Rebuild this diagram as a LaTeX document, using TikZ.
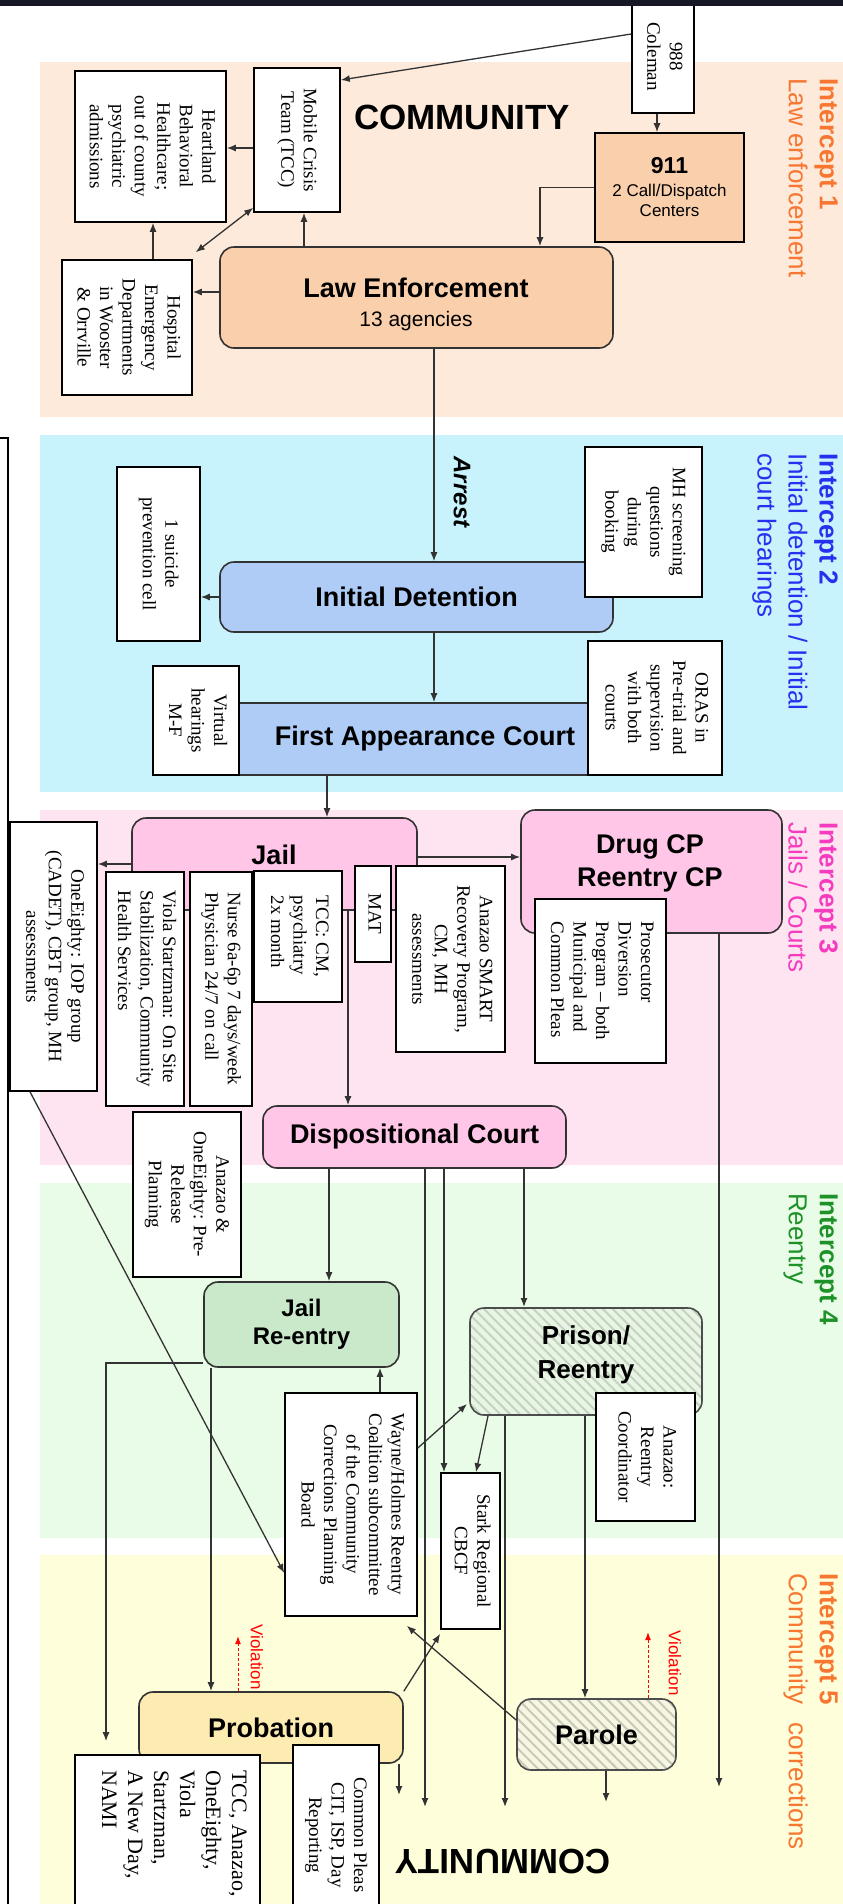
\documentclass[tikz,border=0pt]{standalone}
\usepackage{fontspec}
\setmainfont{Liberation Serif}
\newfontfamily\sansfont{Liberation Sans}
\usetikzlibrary{
	arrows.meta,		% arrow tips
	patterns.meta,		% hatched boxes
	positioning,
}
\definecolor{topbar}{RGB}{22,24,38}
\definecolor{bandA}{RGB}{253,234,218}
\definecolor{bandB}{RGB}{200,242,252}
\definecolor{bandC}{RGB}{254,228,240}
\definecolor{bandD}{RGB}{233,252,231}
\definecolor{bandE}{RGB}{254,254,218}
\definecolor{lepeach}{RGB}{249,207,172}
\definecolor{idblue}{RGB}{174,204,246}
\definecolor{jpink}{RGB}{255,198,232}
\definecolor{jregreen}{RGB}{202,232,202}
\definecolor{probyel}{RGB}{253,236,178}
\definecolor{prisonbase}{RGB}{232,244,228}
\definecolor{prisonline}{RGB}{196,210,192}
\definecolor{parolebase}{RGB}{246,246,226}
\definecolor{paroleline}{RGB}{200,200,182}
\definecolor{intorange}{RGB}{247,118,48}
\definecolor{intblue}{RGB}{40,48,240}
\definecolor{intpink}{RGB}{245,60,190}
\definecolor{intgreen}{RGB}{30,145,40}
\newcommand{\vt}[1]{\rotatebox{-90}{\begin{tabular}{@{}c@{}}#1\end{tabular}}}
\newcommand{\vtl}[1]{\rotatebox{-90}{\begin{tabular}{@{}l@{}}#1\end{tabular}}}

\begin{document}
\begin{tikzpicture}[x=1pt,y=-1pt,
		wbox/.style={draw=black,line width=1.6pt,fill=white,inner sep=0pt,font=\fontsize{19}{22.5}\selectfont},
		rbox/.style={draw=black!80,line width=1.6pt,rounded corners=14pt,inner sep=0pt,align=center,font=\sansfont\bfseries\fontsize{27}{33}\selectfont},
		hatchbox/.style 2 args={rbox,draw=black!70,preaction={fill=#1},pattern={Lines[angle=-45,distance=7pt,line width=2pt]},pattern color=#2},
		boxtxt/.style={inner sep=0pt,align=center,font=\sansfont\bfseries\fontsize{27}{33}\selectfont},
		intlbl/.style={rotate=-90,anchor=north west,align=left,inner sep=0pt,text=#1,font=\sansfont\fontsize{26}{31}\selectfont},
		bigtxt/.style={inner sep=0pt,font=\sansfont\bfseries\fontsize{35}{40}\selectfont},
		viol/.style={rotate=-90,inner sep=0pt,text=red,font=\sansfont\fontsize{17}{20}\selectfont},
		arr/.style={draw=black!80,line width=1.3pt,-{Latex[length=9pt,width=7pt]}},
		darr/.style={arr,{Latex[length=9pt,width=7pt]}-{Latex[length=9pt,width=7pt]}},
		varr/.style={draw=red,line width=0.9pt,dash pattern=on 3pt off 2pt,-{Latex[length=8pt,width=6pt]}},
	]
	\useasboundingbox (0,0) rectangle (843,1904);
	% bands of the five intercepts
	\fill[bandA] (40,62) rectangle (843,417);
	\fill[bandB] (40,435) rectangle (843,792);
	\fill[bandC] (40,810) rectangle (843,1165);
	\fill[bandD] (40,1183) rectangle (843,1538);
	\fill[bandE] (40,1555) rectangle (843,1904);
	\node[wbox,minimum width=116pt,minimum height=1524pt] (sidebox) at (-50,1200) {};

	% intercept 1
	\node[wbox,minimum width=62pt,minimum height=113pt] (coleman) at (663,56.5) {\vt{988\\Coleman}};
	\node[wbox,fill=lepeach,minimum width=149pt,minimum height=109pt,align=center,font=\sansfont\fontsize{17}{20}\selectfont] (e911) at (669.5,187.5) {{\bfseries\fontsize{23}{26}\selectfont 911}\\[3pt]2 Call/Dispatch\\Centers};
	\node[wbox,minimum width=86pt,minimum height=144pt] (mct) at (297,140) {\vt{Mobile Crisis\\Team (TCC)}};
	\node[wbox,minimum width=151pt,minimum height=151pt] (heart) at (150.5,146.5) {\vt{Heartland\\Behavioral\\Healthcare;\\out of county\\psychiatric\\admissions}};
	\node[wbox,minimum width=130pt,minimum height=135pt] (hosp) at (127,327.5) {\vt{Hospital\\Emergency\\Departments\\in Wooster\\\& Orrville}};
	\node[rbox,fill=lepeach,minimum width=393pt,minimum height=101pt] (le) at (416.5,297.5) {};
	\node[boxtxt] (letxt) at (416,304) {Law Enforcement\\[-4pt]{\mdseries\fontsize{21}{24}\selectfont 13 agencies}};
	\node[bigtxt] (commtop) at (462,117) {COMMUNITY};
	\fill[topbar] (0,0) rectangle (843,6);

	% intercept 2
	\node[rbox,fill=idblue,minimum width=393pt,minimum height=70pt] (idt) at (416.5,597) {Initial Detention};
	\node[wbox,minimum width=117pt,minimum height=150pt] (mh) at (643.5,522) {\vt{MH screening\\questions\\during\\booking}};
	\node[wbox,minimum width=83pt,minimum height=174pt] (suic) at (158.5,554) {\vt{1 suicide\\prevention cell}};
	\node[rbox,sharp corners,fill=idblue,minimum width=450pt,minimum height=72pt] (fac) at (425,739) {First Appearance Court};
	\node[wbox,minimum width=86pt,minimum height=109pt] (virt) at (196,720.5) {\vt{Virtual\\hearings\\M-F}};
	\node[wbox,minimum width=134pt,minimum height=134pt] (oras) at (655,708) {\vt{ORAS in\\Pre-trial and\\supervision\\with both\\courts}};
	\node[rotate=-90,inner sep=0pt,font=\sansfont\bfseries\itshape\fontsize{24}{28}\selectfont] (arrest) at (462,492) {Arrest};

	% intercept 3
	\node[rbox,fill=jpink,minimum width=285pt,minimum height=92pt] (jail) at (274.5,864) {};
	\node[boxtxt] (jailtxt) at (274,855) {Jail};
	\node[rbox,fill=jpink,minimum width=261pt,minimum height=123pt] (drug) at (651.5,871.5) {};
	\node[boxtxt] (drugtxt) at (650,863) {Drug CP\\Reentry CP};
	\node[wbox,minimum width=131pt,minimum height=164pt] (pros) at (600.5,981) {\vtl{Prosecutor\\Diversion\\Program -- both\\Municipal and\\Common Pleas}};
	\node[wbox,minimum width=87pt,minimum height=269pt] (one80) at (53.5,956.5) {\vt{OneEighty: IOP group\\(CADET), CBT group, MH\\assessments}};
	\node[wbox,minimum width=78pt,minimum height=234pt] (viola) at (145,989) {\vtl{Viola Startzman: On Site\\Stabilization, Community\\Health Services}};
	\node[wbox,minimum width=62pt,minimum height=234pt] (nurse) at (221,989) {\vtl{Nurse 6a-6p 7 days/week\\Physician 24/7 on call}};
	\node[wbox,minimum width=88pt,minimum height=131pt] (tcccm) at (298,936.5) {\vtl{TCC: CM,\\psychiatry\\2x month}};
	\node[wbox,minimum width=36pt,minimum height=96pt] (mat) at (373,914) {\vt{MAT}};
	\node[wbox,minimum width=109pt,minimum height=186pt] (smart) at (450.5,959) {\vt{Anazao SMART\\Recovery Program,\\CM, MH\\assessments}};
	\node[rbox,fill=jpink,minimum width=303pt,minimum height=62pt] (disp) at (414.5,1137) {Dispositional Court};
	\node[wbox,minimum width=108pt,minimum height=165pt] (prerel) at (187,1194.5) {\vt{Anazao \&\\OneEighty: Pre-\\Release\\Planning}};

	% intercept 4
	\node[rbox,fill=jregreen,font=\sansfont\bfseries\fontsize{24}{28}\selectfont,minimum width=195pt,minimum height=85pt] (jre) at (301.5,1324.5) {Jail\\Re-entry};
	\node[hatchbox={prisonbase}{prisonline},minimum width=232pt,minimum height=107pt] (prison) at (586,1361.5) {};
	\node[boxtxt,font=\sansfont\bfseries\fontsize{26}{34}\selectfont] (prisontxt) at (586,1355) {Prison/\\Reentry};
	\node[wbox,minimum width=99pt,minimum height=128pt] (anzrc) at (645.5,1457) {\vt{Anazao:\\Reentry\\Coordinator}};
	\node[wbox,minimum width=132pt,minimum height=223pt] (wayne) at (351,1504.5) {\vt{Wayne/Holmes Reentry\\Coalition subcommittee\\of the Community\\Corrections Planning\\Board}};
	\node[wbox,minimum width=59pt,minimum height=156pt] (stark) at (470.5,1551) {\vt{Stark Regional\\CBCF}};

	% intercept 5
	\node[rbox,fill=probyel,minimum width=264pt,minimum height=71pt] (prob) at (271,1727.5) {Probation};
	\node[hatchbox={parolebase}{paroleline},minimum width=159pt,minimum height=71pt] (parole) at (596.5,1734.5) {Parole};
	\node[wbox,minimum width=185pt,minimum height=200pt] (tccana) at (167.5,1855) {};
	\node[rotate=-90,anchor=north west,align=left,inner sep=0pt,font=\fontsize{22}{26}\selectfont] (tccanatxt) at (247,1770) {TCC, Anazao,\\OneEighty,\\Viola\\Startzman,\\A New Day,\\NAMI};
	\node[wbox,minimum width=86pt,minimum height=180pt] (compl) at (336,1835) {\vt{Common Pleas\\CIT, ISP, Day\\Reporting}};
	\node[bigtxt,rotate=180] (commbot) at (503,1862) {COMMUNITY};
	\node[viol] (violprob) at (257,1657) {Violation};
	\node[viol] (violpar) at (675,1663) {Violation};

	% intercept labels
	\node[intlbl=intorange] (int1) at (838,78) {\textbf{Intercept 1}\\Law enforcement};
	\node[intlbl=intblue] (int2) at (838,453) {\textbf{Intercept 2}\\Initial detention / Initial\\court hearings};
	\node[intlbl=intpink] (int3) at (838,822) {\textbf{Intercept 3}\\Jails / Courts};
	\node[intlbl=intgreen] (int4) at (838,1193) {\textbf{Intercept 4}\\Reentry};
	\node[intlbl=intorange] (int5) at (838,1573) {\textbf{Intercept 5}\\Community\hspace{0.7em}corrections};

	% free ends at the bottom
	\coordinate (endA) at (425,1807);
	\coordinate (endB) at (505,1807);
	\coordinate (endC) at (719,1787);
	\coordinate (endD) at (399,1795);
	\coordinate (endE) at (606,1802);

	% connectors
	\draw[arr] ([yshift=22.5pt]coleman.west) -- ([yshift=60pt]mct.east);
	\draw[arr] ([xshift=-6pt]coleman.south) -- ([xshift=-6pt]coleman.south |- e911.north);
	\draw[arr] (e911.west) -| ([xshift=123.5pt]le.north);
	\draw[arr] ([yshift=-8pt]mct.west) -- ([yshift=-8pt]mct.west -| heart.east);
	\draw[arr] ([xshift=26pt]hosp.north) -- ([xshift=26pt]hosp.north |- heart.south);
	\draw[darr] ([shift={(3pt,7pt)}]hosp.north east) -- ([yshift=5pt]mct.south west);
	\draw[arr] ([xshift=-112.5pt]le.north) -- ([xshift=-112.5pt]le.north |- mct.south);
	\draw[arr] ([yshift=5.5pt]le.west) -- ([yshift=5.5pt]le.west -| hosp.east);
	\draw[arr] ([xshift=17.5pt]le.south) -- ([xshift=17.5pt]le.south |- idt.north);
	\draw[arr] (idt.west) -- (idt.west -| suic.east);
	\draw[arr] ([xshift=17.5pt]idt.south) -- ([xshift=17.5pt]idt.south |- fac.north);
	\draw[arr] ([xshift=-98pt]fac.south) -- ([xshift=-98pt]fac.south |- jail.north);
	\draw[arr] (jail.west) -- (jail.west -| one80.east);
	\draw[arr] ([yshift=7pt]jail.east) -- ([yshift=7pt]jail.east -| drug.west);
	\draw[arr] ([xshift=73.5pt]jail.south) -- ([xshift=73.5pt]jail.south |- disp.north);
	\draw[arr] ([xshift=67.5pt]drug.south) -- (endC);
	\draw[arr] ([xshift=-23.5pt]one80.south) -- ([yshift=-68.5pt]wayne.west);
	\draw[arr] ([xshift=-85.5pt]disp.south) -- ([xshift=-85.5pt]disp.south |- jre.north);
	\draw[arr] ([xshift=10.5pt]disp.south) -- (endA);
	\draw[arr] ([xshift=29.5pt]disp.south) -- ([xshift=29.5pt]disp.south |- stark.north);
	\draw[arr] ([xshift=109.5pt]disp.south) -- ([xshift=109.5pt]disp.south |- prison.north);
	\draw[arr] ([yshift=-38.5pt]jre.west) -| ([xshift=-61.5pt,yshift=13pt]tccana.north);
	\draw[arr] ([xshift=-90.5pt]jre.south) -- ([xshift=-90.5pt]jre.south |- prob.north);
	\draw[arr] ([xshift=29pt]wayne.north) -- ([xshift=29pt]wayne.north |- jre.south);
	\draw[arr] ([yshift=56.5pt]wayne.east) -- ([shift={(-2pt,12pt)}]prison.south west);
	\draw[arr] ([xshift=-98pt]prison.south) -- ([xshift=5.5pt]stark.north);
	\draw[arr] ([xshift=-81pt]prison.south) -- (endB);
	\draw[arr] ([xshift=-1pt]prison.south) -- ([xshift=-1pt]prison.south |- parole.north);
	\draw[arr] (prob.north east) -- ([yshift=-4pt]stark.south west);
	\draw[arr] ([yshift=14.5pt]parole.west) -- ([shift={(-11pt,-9pt)}]wayne.south east);
	\draw[arr] ([xshift=128pt]prob.south) -- (endD);
	\draw[arr] ([xshift=9.5pt]parole.south) -- (endE);
	\draw[varr] ([xshift=-33pt]prob.north) -- ++(0,-55);
	\draw[varr] ([xshift=51.5pt]parole.north) -- ++(0,-66);
\end{tikzpicture}
\end{document}
